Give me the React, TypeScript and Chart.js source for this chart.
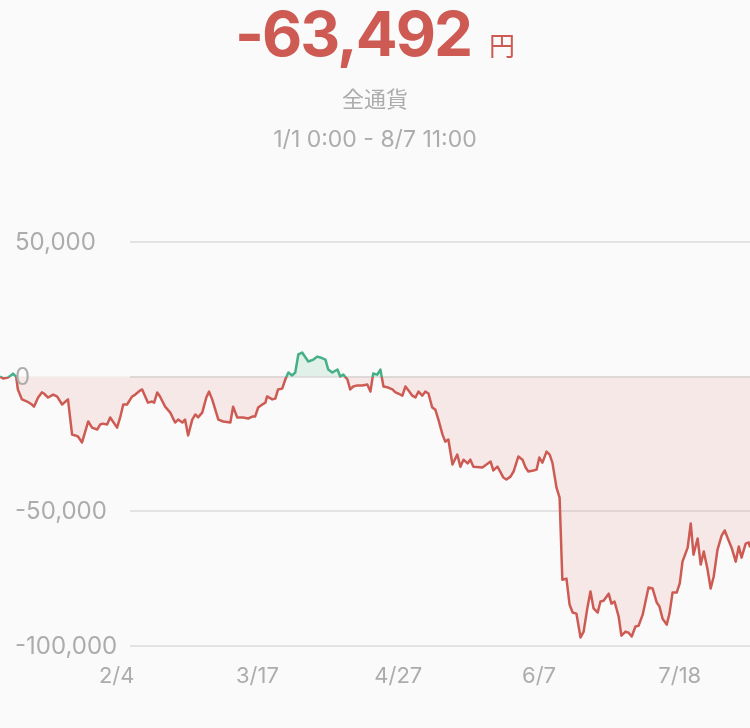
import React, { useEffect, useRef } from "react";
import { Chart, registerables } from "chart.js";

Chart.register(...registerables);

const TOTAL_TEXT = "-63,492";
const UNIT_TEXT = "円";
const SUBTITLE = "全通貨";
const RANGE_TEXT = "1/1 0:00 - 8/7 11:00";

// days since 1/1 0:00
const DAYS = [
  0, 0.9, 2.3, 3.5, 3.8, 4.7, 5.2, 6.4, 7.9, 9.3,
  9.9, 11.1, 12.2, 12.8, 14.0, 15.5, 16.6, 18.1, 19.8, 21.0,
  21.9, 22.7, 23.9, 25.7, 26.8, 28.3, 29.2, 30.0, 31.2, 32.1,
  34.1, 35.0, 35.9, 37.0, 38.5, 39.4, 40.8, 41.4, 42.3, 43.1,
  44.3, 44.9, 45.8, 46.6, 48.1, 49.6, 51.0, 51.9, 53.1, 53.9,
  54.8, 56.0, 56.9, 57.7, 58.9, 60.1, 60.9, 61.8, 63.6, 65.0,
  67.1, 67.9, 69.1, 70.8, 72.3, 73.5, 74.3, 75.2, 76.4, 77.3,
  77.8, 79.3, 80.2, 81.0, 82.2, 83.1, 84.0, 85.1, 86.0, 86.9,
  88.0, 89.8, 91.3, 92.4, 93.3, 94.8, 95.6, 96.8, 98.3, 99.1,
  100.0, 101.2, 102.0, 102.9, 104.1, 105.5, 107.0, 107.9, 108.7, 109.9,
  110.8, 111.7, 113.1, 114.3, 115.2, 116.0, 117.2, 118.1, 119.0, 120.1,
  121.0, 121.9, 123.0, 123.9, 124.8, 125.9, 126.8, 127.7, 128.9, 129.7,
  130.6, 131.8, 133.2, 134.1, 135.0, 136.2, 137.0, 137.9, 140.5, 142.9,
  143.7, 144.9, 146.6, 147.5, 148.7, 149.6, 151.0, 152.2, 153.1, 153.9,
  155.4, 156.3, 157.1, 158.0, 159.2, 160.1, 160.9, 162.1, 163.0, 163.8,
  165.0, 165.9, 166.8, 167.9, 169.1, 170.0, 171.1, 172.0, 172.9, 174.1,
  174.9, 175.8, 177.3, 178.1, 179.0, 180.2, 181.0, 182.2, 183.1, 184.0,
  185.1, 186.0, 187.2, 188.9, 190.1, 191.3, 192.1, 193.0, 194.2, 195.0,
  195.9, 197.1, 198.0, 198.8, 200.3, 201.2, 202.0, 203.2, 204.1, 205.0,
  206.1, 207.0, 207.9, 209.0, 210.2, 211.1, 212.0, 213.1, 214.3, 215.2,
  216.0, 217.2, 218.1, 218.46,
];

// profit / loss in yen
const VALUES = [
  0, -700, -400, 700, 1100, 0, -4800, -8500, -9300, -10400,
  -11200, -7800, -5900, -6300, -7800, -6700, -7400, -10400, -8500, -21600,
  -21900, -22300, -24500, -16700, -19000, -19700, -17800, -17500, -17800, -15200,
  -19000, -15200, -10400, -10400, -7400, -6700, -5200, -4800, -7400, -9700,
  -9300, -9700, -5900, -7400, -11200, -13400, -17100, -16000, -17100, -16000,
  -21900, -16000, -14100, -15200, -13400, -7800, -5600, -8500, -16000, -16700,
  -17100, -11200, -15200, -15200, -15600, -14900, -14900, -11500, -10400, -9700,
  -7400, -8500, -8200, -4800, -4500, -1100, 1500, 400, 1500, 8200,
  8900, 5600, 6300, 7400, 7100, 6300, 2600, 1500, 2600, 0,
  700, -1100, -4800, -3700, -3300, -3300, -3000, -5600, 1100, 700,
  2600, -3700, -4100, -4800, -5900, -6300, -7100, -3700, -5200, -7100,
  -7800, -5600, -7100, -5600, -6300, -11500, -12300, -16000, -21600, -24200,
  -23400, -32700, -29000, -33500, -30900, -32300, -30900, -33500, -33800, -31600,
  -34900, -33500, -37500, -38300, -37200, -35300, -29700, -30900, -33800, -35300,
  -34900, -34600, -30100, -32000, -27900, -29000, -32000, -41300, -45000, -75500,
  -75100, -84700, -87700, -88100, -97000, -94800, -85900, -79900, -86200, -87700,
  -83600, -83300, -80700, -84400, -83600, -89200, -96300, -94800, -95200, -96600,
  -92900, -92600, -88500, -78400, -78800, -84000, -85500, -90000, -92200, -88100,
  -80300, -80300, -76900, -68800, -63600, -54600, -66200, -60200, -69900, -65000,
  -71700, -78800, -74300, -64300, -59100, -57200, -60200, -63600, -68800, -63200,
  -67300, -62100, -61700, -63492,
];

const X_TICK_DAYS = [34, 75, 116, 157, 198];
const X_TICK_LABELS = ["2/4", "3/17", "4/27", "6/7", "7/18"];
const Y_TICKS = [50000, 0, -50000, -100000];
const X_END = 218.46;

const RED = "#cd5b53";
const GREEN = "#45b086";
const RED_FILL = "rgba(205, 91, 83, 0.11)";
const GREEN_FILL = "rgba(69, 176, 134, 0.13)";
const GRID = "#e3e3e3";
const LABEL = "#acacac";
const BG = "#fafafa";
const FONT = "Inter, 'Noto Sans', sans-serif";

const yGridPlugin = {
  id: "yGridLabels",
  beforeDatasetsDraw(chart: any) {
    const { ctx, chartArea, scales } = chart;
    ctx.save();
    ctx.strokeStyle = GRID;
    ctx.lineWidth = 2;
    Y_TICKS.forEach((v) => {
      const y = Math.round(scales.y.getPixelForValue(v));
      ctx.beginPath();
      ctx.moveTo(130, y);
      ctx.lineTo(chartArea.right, y);
      ctx.stroke();
    });
    ctx.restore();
  },
  afterDatasetsDraw(chart: any) {
    const { ctx, scales } = chart;
    ctx.save();
    ctx.fillStyle = LABEL;
    ctx.font = `24px ${FONT}`;
    ctx.textAlign = "left";
    ctx.textBaseline = "middle";
    Y_TICKS.forEach((v) => {
      const y = scales.y.getPixelForValue(v) + 1;
      ctx.fillText(v.toLocaleString("en-US"), 15, y);
    });
    ctx.restore();
  },
};

export default function App() {
  const canvasRef = useRef<HTMLCanvasElement | null>(null);

  useEffect(() => {
    document.body.style.margin = "0";
    document.body.style.background = BG;
    const canvas = canvasRef.current;
    if (!canvas) return;
    const n = Math.min(DAYS.length, VALUES.length);
    const points = [];
    for (let i = 0; i < n; i++) points.push({ x: DAYS[i], y: VALUES[i] });

    const chart = new Chart(canvas, {
      type: "line",
      data: {
        datasets: [
          {
            data: points,
            borderWidth: 2.5,
            pointRadius: 0,
            tension: 0,
            borderJoinStyle: "round",
            fill: { target: { value: 0 }, above: GREEN_FILL, below: RED_FILL },
            borderColor: (ctx: any) => {
              const c = ctx.chart;
              const area = c.chartArea;
              if (!area || !c.scales.y) return RED;
              const y0 = c.scales.y.getPixelForValue(0);
              const g = c.ctx.createLinearGradient(0, area.top, 0, area.bottom);
              const s = Math.min(1, Math.max(0, (y0 - area.top) / (area.bottom - area.top)));
              g.addColorStop(0, GREEN);
              g.addColorStop(s, GREEN);
              g.addColorStop(s, RED);
              g.addColorStop(1, RED);
              return g;
            },
          } as any,
        ],
      },
      options: {
        responsive: false,
        animation: false,
        events: [],
        layout: { padding: { top: 242, left: 0, right: 0, bottom: 20 } },
        plugins: { legend: { display: false }, tooltip: { enabled: false } },
        scales: {
          x: {
            type: "linear",
            min: 0,
            max: X_END,
            grid: { display: false, drawTicks: false },
            border: { display: false },
            afterBuildTicks: (scale: any) => {
              scale.ticks = X_TICK_DAYS.map((v) => ({ value: v }));
            },
            ticks: {
              autoSkip: false,
              maxRotation: 0,
              padding: 18,
              color: LABEL,
              font: { family: FONT, size: 22 },
              callback: (value: any) => {
                const i = X_TICK_DAYS.indexOf(Number(value));
                return i >= 0 ? X_TICK_LABELS[i] : "";
              },
            },
          },
          y: {
            display: false,
            min: -100000,
            max: 50000,
          },
        },
      },
      plugins: [yGridPlugin],
    });
    return () => chart.destroy();
  }, []);

  return (
    <div style={{ position: "relative", width: 750, height: 728, background: BG, overflow: "hidden" }}>
      <canvas ref={canvasRef} width={750} height={728} style={{ position: "absolute", left: 0, top: 0 }} />
      <div
        style={{
          position: "absolute",
          top: 3,
          left: 0,
          width: 750,
          textAlign: "center",
          lineHeight: "62px",
          whiteSpace: "nowrap",
          color: RED,
          fontFamily: FONT,
        }}
      >
        <span style={{ fontSize: 62, fontWeight: 700, letterSpacing: -2 }}>{TOTAL_TEXT}</span>
        <span style={{ fontSize: 26, fontWeight: 400, marginLeft: 18, fontFamily: "'Noto Sans CJK JP', sans-serif" }}>
          {UNIT_TEXT}
        </span>
      </div>
      <div
        style={{
          position: "absolute",
          top: 86,
          left: 0,
          width: 750,
          textAlign: "center",
          fontSize: 22,
          lineHeight: "22px",
          color: LABEL,
          fontFamily: "'Noto Sans CJK JP', sans-serif",
        }}
      >
        {SUBTITLE}
      </div>
      <div
        style={{
          position: "absolute",
          top: 128,
          left: 0,
          width: 750,
          textAlign: "center",
          fontSize: 23,
          lineHeight: "23px",
          color: LABEL,
          fontFamily: FONT,
        }}
      >
        {RANGE_TEXT}
      </div>
    </div>
  );
}
